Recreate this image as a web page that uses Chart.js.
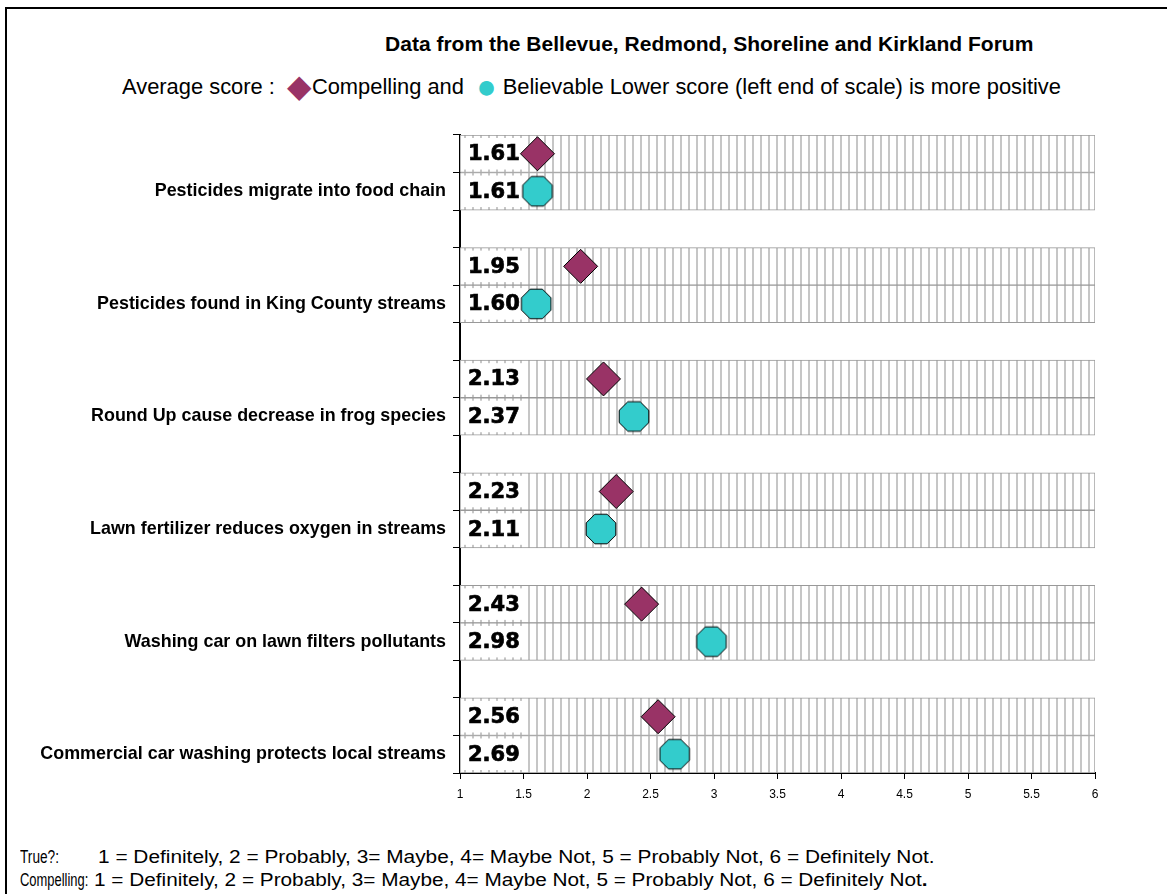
<!DOCTYPE html>
<html>
<head>
<meta charset="utf-8">
<script src="https://cdn.jsdelivr.net/npm/chart.js@4.4.0/dist/chart.umd.min.js"></script>
<style>
  html, body { margin: 0; padding: 0; background: #fff; }
  body { width: 1167px; height: 894px; position: relative; overflow: hidden; color: #000;
         font-family: "Liberation Sans Narrow", "Liberation Sans", Arial, sans-serif; }
  .frame { position: absolute; left: 5px; top: 7px; width: 1300px; height: 1000px;
           border-top: 2px solid #000; border-left: 2px solid #000; }
  .txt { position: absolute; white-space: pre; transform-origin: 0 50%; line-height: 1; }
  #title { left: 385px; top: 35px; font-size: 19.5px; font-weight: bold; }
  #legend { left: 122px; top: 76px; font-size: 22px; }
  #legend .dia { color: #993366; font-size: 32px; line-height: 0; vertical-align: -3px; }
  #legend .dot { color: #33cccc; font-size: 34px; line-height: 0; vertical-align: -4px; }
  .foot { font-size: 17.5px; }
  #wrap { position: absolute; left: 0; top: 0; width: 1167px; height: 894px; }
</style>
</head>
<body>
<div class="frame"></div>
<div id="title" class="txt" data-w="648">Data from the Bellevue, Redmond, Shoreline and Kirkland Forum</div>
<div id="legend" class="txt" data-w="939">Average score :  <span class="dia">◆</span>Compelling and  <span class="dot">●</span> Believable Lower score (left end of scale) is more positive</div>
<div class="txt foot" style="left:20px;top:849px" data-w="39">True?:</div>
<div class="txt foot" style="left:98px;top:849px" data-w="837">1 = Definitely, 2 = Probably, 3= Maybe, 4= Maybe Not, 5 = Probably Not, 6 = Definitely Not.</div>
<div class="txt foot" style="left:20px;top:872px" data-w="68">Compelling:</div>
<div class="txt foot" style="left:94px;top:872px" data-w="834">1 = Definitely, 2 = Probably, 3= Maybe, 4= Maybe Not, 5 = Probably Not, 6 = Definitely Not<b>.</b></div>
<div id="wrap"><canvas id="c" width="1167" height="894"></canvas></div>
<script>
// statements, top to bottom
const categories = [
  'Pesticides migrate into food chain',
  'Pesticides found in King County streams',
  'Round Up cause decrease in frog species',
  'Lawn fertilizer reduces oxygen in streams',
  'Washing car on lawn filters pollutants',
  'Commercial car washing protects local streams'
];
const compelling = [1.61, 1.95, 2.13, 2.23, 2.43, 2.56];
const believable = [1.61, 1.60, 2.37, 2.11, 2.98, 2.69];
const scaleMin = 1, scaleMax = 6, scaleStep = 0.5;

// squeeze the header/footer text into the widths it has in the original
document.querySelectorAll('.txt[data-w]').forEach(el => {
  const w = +el.dataset.w;
  el.style.transform = 'scaleX(' + (w / el.offsetWidth) + ')';
});

// rows: compelling, believable, gap, compelling, believable, gap ...
const rows = [];
categories.forEach((name, i) => {
  if (i > 0) rows.push({ kind: 'gap', label: '' });
  rows.push({ kind: 'c', label: '', value: compelling[i] });
  rows.push({ kind: 'b', label: name, value: believable[i] });
});

const canvas = document.getElementById('c');
const ctx0 = canvas.getContext('2d');

function hatch() {
  const c = document.createElement('canvas');
  c.width = 8; c.height = 8;
  const g = c.getContext('2d');
  g.fillStyle = '#fff'; g.fillRect(0, 0, 8, 8);
  g.fillStyle = '#c6c6c6'; g.fillRect(0, 0, 2, 8);
  return ctx0.createPattern(c, 'repeat');
}

function octagon(size, fill) {
  const c = document.createElement('canvas');
  c.width = c.height = size;
  const g = c.getContext('2d');
  const cx = size / 2, r = size / 2 - 1;
  g.beginPath();
  for (let k = 0; k < 8; k++) {
    const a = Math.PI / 8 + k * Math.PI / 4;
    g.lineTo(cx + r * Math.cos(a), cx + r * Math.sin(a));
  }
  g.closePath();
  g.fillStyle = fill; g.fill();
  g.lineWidth = 1; g.strokeStyle = '#000'; g.stroke();
  return c;
}

const valueLabels = {
  id: 'valueLabels',
  afterDatasetDraw(chart, args) {
    if (args.index !== 2) return;
    const ctx = chart.ctx, ys = chart.scales.y, xs = chart.scales.x;
    const left = xs.getPixelForValue(scaleMin);
    const half = (ys.getPixelForValue(1) - ys.getPixelForValue(0)) / 2;
    ctx.save();
    rows.forEach((r, i) => {
      if (r.kind === 'gap') return;
      const cy = ys.getPixelForValue(i);
      ctx.fillStyle = '#fff';
      ctx.fillRect(left + 4, cy - half + 3, 58, 2 * half - 6);
      ctx.fillStyle = '#000';
      ctx.strokeStyle = '#000';
      ctx.lineWidth = 0.7;
      ctx.font = 'bold 21px "DejaVu Sans"';
      ctx.textBaseline = 'middle';
      ctx.textAlign = 'left';
      ctx.fillText(r.value.toFixed(2), left + 8, cy + 1);
      ctx.strokeText(r.value.toFixed(2), left + 8, cy + 1);
    });
    ctx.restore();
  }
};

new Chart(canvas, {
  type: 'bar',
  data: {
    labels: rows.map(r => r.label),
    datasets: [
      {
        type: 'line', indexAxis: 'y', order: 1, showLine: false,
        data: rows.map(r => r.kind === 'c' ? r.value : null),
        pointStyle: 'rectRot', pointRadius: 17, pointHoverRadius: 17,
        pointBackgroundColor: '#993366', pointBorderColor: '#000', pointBorderWidth: 1
      },
      {
        type: 'line', indexAxis: 'y', order: 2, showLine: false,
        data: rows.map(r => r.kind === 'b' ? r.value : null),
        pointStyle: octagon(34, '#33cccc'), pointRadius: 16, pointHoverRadius: 16
      },
      {
        type: 'bar', order: 10,
        data: rows.map(r => r.kind === 'gap' ? null : [scaleMin, scaleMax]),
        backgroundColor: hatch(), borderColor: '#999', borderWidth: 1,
        borderSkipped: false, barPercentage: 1, categoryPercentage: 1
      }
    ]
  },
  options: {
    indexAxis: 'y',
    responsive: false,
    animation: false,
    events: [],
    layout: { padding: { top: 135, right: 72, bottom: 81, left: 0 } },
    plugins: { legend: { display: false }, tooltip: { enabled: false } },
    scales: {
      y: {
        type: 'category',
        offset: true,
        afterFit(s) { s.width = 460; },
        grid: { offset: true, drawOnChartArea: false, tickLength: 7, color: '#000' },
        border: { color: '#000', width: 2 },
        ticks: { autoSkip: false, color: '#000', padding: 7,
                 font: { family: '"Liberation Sans", Arial', size: 17.9, weight: 'bold' } }
      },
      x: {
        type: 'linear', min: scaleMin, max: scaleMax,
        afterFit(s) { s.height = 40; },
        grid: { drawOnChartArea: false, tickLength: 6, color: '#000' },
        border: { color: '#000', width: 2 },
        ticks: { stepSize: scaleStep, color: '#000', padding: 8,
                 callback: v => String(+v.toFixed(1)),
                 font: { family: '"Liberation Sans Narrow", "Liberation Sans"', size: 12 } }
      }
    }
  },
  plugins: [valueLabels]
});
</script>
</body>
</html>
